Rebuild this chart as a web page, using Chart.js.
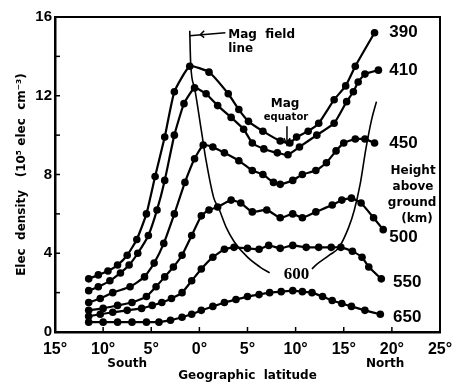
<!DOCTYPE html>
<html>
<head>
<meta charset="utf-8">
<script src="https://cdn.jsdelivr.net/npm/chart.js@4.4.1/dist/chart.umd.min.js"></script>
<style>
  html, body { margin: 0; padding: 0; background: #ffffff; }
  #wrap { width: 464px; height: 386px; }
</style>
</head>
<body>
<div id="wrap"><canvas id="grafico"></canvas></div>
<script>
// latitude in degrees, south negative; density in 10^5 elec cm^-3
const lat390 = [-11.5, -10.5, -9.5, -8.5, -7.5, -6.5, -5.5, -4.6, -3.6, -2.6, -1.0, 1.0, 3.0, 4.1, 5.1, 6.6, 8.4, 9.4, 10.1, 11.3, 12.4, 14.0, 15.2, 16.2, 18.2];
const den390 = [2.7, 2.9, 3.1, 3.4, 3.9, 4.7, 6.0, 7.9, 9.9, 12.2, 13.5, 13.2, 12.1, 11.3, 10.7, 10.2, 9.7, 9.6, 9.9, 10.2, 10.6, 11.8, 12.5, 13.5, 15.2];

const lat410 = [-11.5, -10.5, -9.3, -8.2, -7.3, -6.4, -5.3, -4.4, -3.6, -2.6, -1.6, -0.5, 0.7, 1.9, 3.3, 4.6, 5.5, 6.7, 8.1, 9.2, 10.4, 12.2, 14.0, 15.3, 16.0, 16.5, 17.2, 18.6];
const den410 = [2.1, 2.3, 2.6, 3.0, 3.4, 4.0, 4.9, 6.2, 7.7, 10.0, 11.6, 12.4, 12.1, 11.5, 10.9, 10.3, 9.6, 9.3, 9.1, 9.0, 9.4, 10.0, 10.6, 11.7, 12.2, 12.7, 13.1, 13.3];

const lat450 = [-11.5, -10.3, -9.0, -7.2, -5.7, -4.7, -3.7, -2.6, -1.5, -0.5, 0.4, 1.4, 2.6, 4.1, 5.5, 6.6, 7.7, 8.4, 9.7, 10.7, 12.1, 13.2, 14.2, 15.0, 16.2, 17.2, 18.2];
const den450 = [1.5, 1.7, 2.0, 2.3, 2.8, 3.5, 4.5, 6.0, 7.6, 8.8, 9.5, 9.4, 9.1, 8.7, 8.2, 8.0, 7.6, 7.5, 7.7, 8.0, 8.2, 8.6, 9.2, 9.6, 9.8, 9.8, 9.6];

const lat500 = [-11.5, -10.0, -8.5, -7.0, -5.5, -4.5, -3.6, -2.7, -1.8, -0.8, 0.2, 1.0, 1.9, 3.3, 4.3, 5.5, 7.0, 8.4, 9.7, 10.7, 12.1, 13.8, 14.8, 15.8, 16.8, 18.1, 19.1];
const den500 = [1.1, 1.2, 1.35, 1.5, 1.8, 2.3, 2.8, 3.3, 3.9, 4.9, 5.9, 6.2, 6.35, 6.7, 6.55, 6.1, 6.2, 5.8, 6.0, 5.8, 6.1, 6.45, 6.7, 6.8, 6.55, 5.8, 5.2];

const lat550 = [-11.5, -10.3, -9.0, -7.5, -6.0, -4.9, -3.9, -2.9, -1.8, -0.8, 0.2, 1.4, 2.6, 3.6, 5.0, 6.2, 7.2, 8.4, 9.7, 11.1, 12.4, 13.7, 14.7, 15.9, 16.9, 17.6, 18.9];
const den550 = [0.8, 0.9, 1.0, 1.1, 1.2, 1.35, 1.5, 1.7, 2.0, 2.6, 3.2, 3.8, 4.2, 4.3, 4.25, 4.2, 4.4, 4.25, 4.4, 4.3, 4.3, 4.3, 4.3, 4.1, 3.8, 3.3, 2.7];

const lat650 = [-11.5, -10.0, -8.5, -7.0, -5.5, -4.2, -3.0, -1.8, -0.8, 0.2, 1.4, 2.6, 3.8, 5.0, 6.2, 7.3, 8.5, 9.7, 10.7, 11.7, 12.8, 13.8, 14.8, 15.8, 17.2, 18.8];
const den650 = [0.5, 0.5, 0.5, 0.5, 0.5, 0.5, 0.6, 0.75, 0.9, 1.1, 1.3, 1.5, 1.65, 1.8, 1.9, 2.0, 2.05, 2.1, 2.05, 2.0, 1.8, 1.6, 1.45, 1.3, 1.1, 0.9];

// magnetic field line (600 km), two branches either side of its label
const latFieldW = [-1.0, -0.9, -0.5, 0.2, 0.7, 1.5, 2.0, 2.8, 3.6, 5.0, 6.3, 7.3];
const denFieldW = [15.3, 13.6, 12.4, 10.25, 8.7, 6.8, 6.3, 5.3, 4.6, 3.8, 3.3, 3.0];
const latFieldE = [11.7, 12.1, 13.5, 14.5, 15.5, 16.1, 16.7, 17.3, 17.9, 18.4];
const denFieldE = [3.2, 3.4, 3.9, 4.3, 5.3, 6.2, 7.5, 9.3, 10.8, 11.7];

const alturas = ['390', '410', '450', '500', '550', '650'];
const ticksY = [0, 2, 4, 6, 8, 10, 12, 14, 16];
const ticksX = [-10, -5, 0, 5, 10, 15, 20];

function puntos(lats, dens) {
    return lats.map((x, i) => ({ x: x, y: dens[i] }));
}

function serie(lats, dens) {
    return {
        data: puntos(lats, dens),
        borderColor: '#000',
        backgroundColor: '#000',
        borderWidth: 2.2,
        pointRadius: 3.8,
        pointBorderWidth: 0,
        tension: 0.15,
        fill: false
    };
}

function linea(lats, dens) {
    return {
        data: puntos(lats, dens),
        borderColor: '#000',
        borderWidth: 1.6,
        pointRadius: 0,
        cubicInterpolationMode: 'monotone',
        fill: false
    };
}

// text labels and frame drawn on top
const anotaciones = {
    id: 'anotaciones',
    afterDraw(chart) {
        const ctx = chart.ctx;
        const xs = chart.scales.x, ys = chart.scales.y;
        const a = chart.chartArea;
        const px = v => xs.getPixelForValue(v);
        const py = v => ys.getPixelForValue(v);
        ctx.save();
        ctx.strokeStyle = '#000';
        ctx.fillStyle = '#000';

        // box top and right
        ctx.lineWidth = 2;
        ctx.beginPath();
        ctx.moveTo(a.left, a.top);
        ctx.lineTo(a.right, a.top);
        ctx.lineTo(a.right, a.bottom);
        ctx.stroke();

        // inward ticks
        ctx.lineWidth = 1.5;
        ticksY.forEach(v => {
            ctx.beginPath();
            ctx.moveTo(a.left, py(v));
            ctx.lineTo(a.left + 5, py(v));
            ctx.stroke();
        });
        ticksX.forEach(v => {
            ctx.beginPath();
            ctx.moveTo(px(v), a.bottom);
            ctx.lineTo(px(v), a.bottom - 5);
            ctx.stroke();
        });

        // height labels on the right
        ctx.font = 'bold 17px "Liberation Sans"';
        ctx.textAlign = 'center';
        ctx.textBaseline = 'middle';
        const posLab = [[21.2, 15.2], [21.2, 13.3], [21.2, 9.6], [21.2, 4.8], [21.6, 2.5], [21.6, 0.75]];
        alturas.forEach((t, i) => ctx.fillText(t, px(posLab[i][0]), py(posLab[i][1])));

        ctx.font = 'bold 17px "Liberation Serif"';
        ctx.fillText('600', px(10.1), py(2.9));

        ctx.font = 'bold 12px "DejaVu Sans"';
        ctx.fillText('Height', px(22.2), py(8.2));
        ctx.fillText('above', px(22.2), py(7.35));
        ctx.fillText('ground', px(22.1), py(6.55));
        ctx.fillText('(km)', px(22.6), py(5.75));

        ctx.fillText('Mag', px(8.9), py(11.6));
        ctx.font = 'bold 10px "DejaVu Sans"';
        ctx.fillText('equator', px(9.0), py(10.9));

        ctx.font = 'bold 12px "DejaVu Sans"';
        ctx.textAlign = 'left';
        ctx.fillText('Mag  field', px(3.0), py(15.1));
        ctx.fillText('line', px(3.0), py(14.4));

        // arrows
        ctx.lineWidth = 1.5;
        ctx.beginPath();
        ctx.moveTo(px(9.1), py(10.45));
        ctx.lineTo(px(9.1), py(9.6));
        ctx.stroke();
        ctx.beginPath();
        ctx.moveTo(px(9.1) - 3, py(9.85));
        ctx.lineTo(px(9.1), py(9.5));
        ctx.lineTo(px(9.1) + 3, py(9.85));
        ctx.stroke();

        ctx.beginPath();
        ctx.moveTo(px(-1.0), py(15.05));
        ctx.lineTo(px(2.7), py(15.2));
        ctx.stroke();
        ctx.beginPath();
        ctx.moveTo(px(0.5), py(15.3));
        ctx.lineTo(px(0.1), py(15.1));
        ctx.lineTo(px(0.5), py(14.95));
        ctx.stroke();

        // South / North under the axis
        ctx.textAlign = 'center';
        ctx.font = 'bold 12px "DejaVu Sans"';
        ctx.fillText('South', px(-7.5), 364);
        ctx.fillText('North', px(19.3), 364);
        ctx.restore();
    }
};

document.addEventListener('DOMContentLoaded', function () {
    const grafico = document.getElementById("grafico").getContext("2d");
    new Chart(grafico, {
        type: "line",
        data: {
            datasets: [
                serie(lat390, den390),
                serie(lat410, den410),
                serie(lat450, den450),
                serie(lat500, den500),
                serie(lat550, den550),
                serie(lat650, den650),
                linea(latFieldW, denFieldW),
                linea(latFieldE, denFieldE)
            ]
        },
        options: {
            responsive: true,
            maintainAspectRatio: false,
            animation: false,
            layout: { padding: { top: 17, right: 24, left: 0, bottom: 0 } },
            scales: {
                x: {
                    type: 'linear',
                    min: -15,
                    max: 25,
                    afterFit: s => { s.height = 54; },
                    grid: { drawOnChartArea: false, drawTicks: false },
                    border: { color: '#000', width: 2.5 },
                    ticks: {
                        stepSize: 5,
                        padding: 8,
                        color: '#000',
                        font: { family: 'Liberation Sans', size: 16, weight: 'bold' },
                        callback: v => Math.abs(v) + '°'
                    },
                    title: {
                        display: true,
                        text: 'Geographic  latitude',
                        color: '#000',
                        padding: { top: 0, bottom: 3 },
                        font: { family: 'DejaVu Sans', size: 12, weight: 'bold' }
                    }
                },
                y: {
                    min: 0,
                    max: 16,
                    afterFit: s => { s.width = 55; },
                    grid: { drawOnChartArea: false, drawTicks: false },
                    border: { color: '#000', width: 2.5 },
                    ticks: {
                        stepSize: 2,
                        padding: 3,
                        color: '#000',
                        font: { family: 'Liberation Sans', size: 15, weight: 'bold' },
                        callback: v => (v % 4 === 0 ? v : '')
                    },
                    title: {
                        display: true,
                        text: 'Elec  density   (10⁵ elec  cm⁻³)',
                        color: '#000',
                        padding: { top: 15, bottom: 0 },
                        font: { family: 'DejaVu Sans', size: 12, weight: 'bold' }
                    }
                }
            },
            plugins: {
                legend: { display: false },
                tooltip: { enabled: false }
            }
        },
        plugins: [anotaciones]
    });
});
</script>
</body>
</html>
